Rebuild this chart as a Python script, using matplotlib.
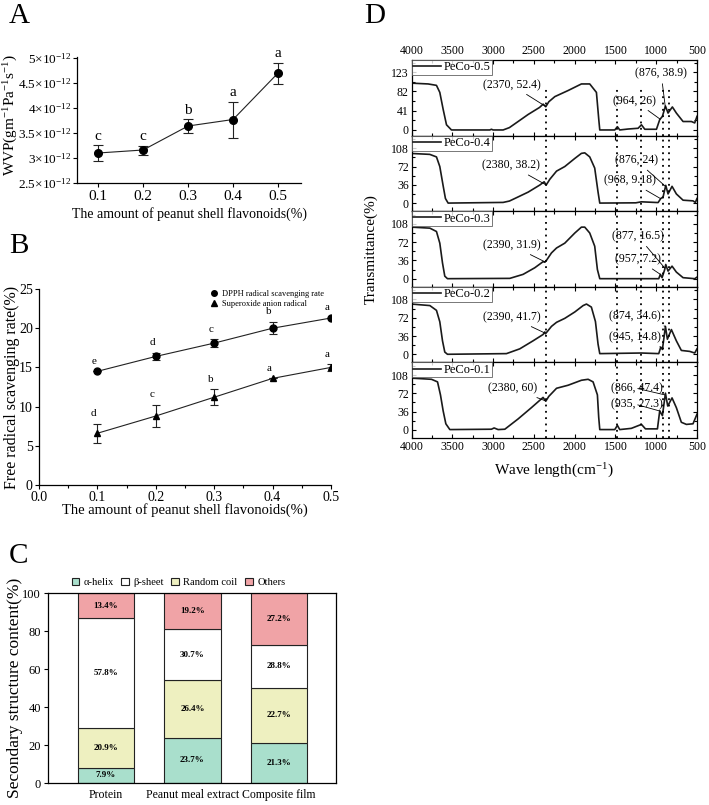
import numpy as np
import matplotlib.pyplot as plt
from matplotlib.patches import Patch
from matplotlib.lines import Line2D
from matplotlib.ticker import MultipleLocator

plt.rcParams['font.family'] = ['Liberation Serif', 'DejaVu Serif']
plt.rcParams['mathtext.fontset'] = 'custom'
plt.rcParams['mathtext.rm'] = 'Liberation Serif'
plt.rcParams['mathtext.it'] = 'Liberation Serif:italic'
plt.rcParams['axes.linewidth'] = 0.9

# ---- A: water vapour permeability
flav = [0.1, 0.2, 0.3, 0.4, 0.5]
wvp = [3.10e-12, 3.16e-12, 3.64e-12, 3.77e-12, 4.70e-12]
wvp_err = [0.16e-12, 0.09e-12, 0.145e-12, 0.36e-12, 0.21e-12]
wvp_sig = ['c', 'c', 'b', 'a', 'a']
wvp_ticks = [2.5e-12, 3e-12, 3.5e-12, 4e-12, 4.5e-12, 5e-12]
wvp_ticklabels = ['2.5×10$^{-12}$', '3×10$^{-12}$', '3.5×10$^{-12}$',
                  '4×10$^{-12}$', '4.5×10$^{-12}$', '5×10$^{-12}$']

# ---- B: radical scavenging
dpph = [14.5, 16.4, 18.1, 20.0, 21.3]
dpph_err = [0, 0.45, 0.5, 0.8, 0]
dpph_sig = ['e', 'd', 'c', 'b', 'a']
superox = [6.6, 8.8, 11.2, 13.6, 15.0]
superox_err = [1.2, 1.4, 1.0, 0, 0.4]
superox_sig = ['d', 'c', 'b', 'a', 'a']

# ---- C: secondary structure (segment heights as drawn, and their printed labels)
samples = ['Protein', 'Peanut meal extract', 'Composite film']
helix = [7.9, 23.7, 21.3]
coil = [20.9, 30.7, 28.8]
sheet = [57.8, 26.4, 22.7]
others = [13.4, 19.2, 27.2]
helix_lbl = ['7.9%', '23.7%', '21.3%']
coil_lbl = ['20.9%', '26.4%', '22.7%']
sheet_lbl = ['57.8%', '30.7%', '28.8%']
others_lbl = ['13.4%', '19.2%', '27.2%']

# ---- D: FTIR spectra (wavenumber, transmittance)
peco05 = [(4000, 99.7), (3796, 98), (3694, 95), (3653, 80), (3612, 44), (3571, 11), (3510, 0),
          (3040, 0), (3020, 1.5), (3000, 0), (2877, 0), (2800, 5), (2734, 13), (2570, 33),
          (2430, 48), (2386, 55), (2354, 49.5), (2317, 60), (2243, 71), (2080, 84), (1917, 98),
          (1815, 98), (1733, 80), (1704, 22), (1692, 0), (1508, 0), (1476, 7), (1447, 0),
          (1345, 2), (1222, 3.6), (1181, 11), (1140, 1.5), (997, 1.5), (957, 22), (924, 29),
          (887, 51), (855, 36), (802, 49), (753, 36), (671, 18), (569, 18), (528, 15), (500, 29)]
peco04 = [(4000, 97.8), (3776, 96), (3694, 91), (3653, 72), (3612, 34), (3584, 9), (3551, 0),
          (2877, 1.3), (2800, 4), (2734, 9), (2570, 21.6), (2427, 35.6), (2374, 42), (2349, 35.6),
          (2304, 47), (2222, 63), (2121, 72), (1998, 88), (1917, 98), (1876, 99), (1815, 91),
          (1754, 69), (1713, 21.6), (1692, 0), (1250, 0.5), (1181, 2.5), (977, 1), (944, 9),
          (916, 12), (883, 35), (855, 18), (806, 33), (753, 18), (671, 5.7), (549, 4.4),
          (520, 1.3), (500, 9)]
peco03 = [(4000, 101.6), (3775, 99.6), (3694, 93), (3653, 70), (3620, 31), (3592, 5), (3559, 0),
          (2795, 0.6), (2632, 8.5), (2489, 21.5), (2387, 33.5), (2366, 32.5), (2346, 36),
          (2284, 50.8), (2222, 60.5), (2121, 70), (1998, 90), (1917, 101.6), (1876, 101.6),
          (1815, 90), (1754, 64), (1721, 18), (1692, 0), (969, 0), (949, 8.5), (928, 2),
          (896, 18), (883, 28), (855, 15), (806, 24.7), (753, 13), (671, 2), (528, 0), (500, 3)]
peco02 = [(4000, 99), (3775, 96), (3694, 86.6), (3653, 64), (3620, 26.5), (3592, 4.4), (3559, 0),
          (2836, 1.3), (2673, 10.7), (2510, 26.5), (2387, 39), (2366, 44), (2358, 40.4),
          (2325, 46.8), (2284, 55), (2222, 63), (2121, 70.8), (1998, 83.4), (1896, 96),
          (1855, 99), (1795, 93), (1745, 64.5), (1713, 20), (1692, 1.3), (1181, 2.5), (969, 1.3),
          (944, 14), (924, 9.5), (887, 55), (863, 29.7), (814, 48.7), (753, 26.5), (692, 7.6),
          (590, 5.7), (528, 2.5), (500, 10.7)]
peco01 = [(4000, 102), (3755, 99.7), (3681, 94.6), (3645, 69), (3612, 37.5), (3579, 12), (3530, 0.6),
          (3020, 1.3), (2987, 3.8), (2938, 0.6), (2856, 1.3), (2693, 21.6), (2530, 43.8), (2387, 64),
          (2354, 56.5), (2317, 66), (2222, 82), (2080, 88), (1917, 97.8), (1835, 99.7), (1774, 94.6),
          (1721, 69), (1705, 24.8), (1692, 0.6), (1508, 0.6), (1476, 8.9), (1447, 0.6), (1305, 3),
          (1181, 10.8), (1132, 2), (985, 2), (957, 37.5), (924, 28), (887, 72.4), (859, 47),
          (806, 63), (753, 43.8), (692, 15), (630, 10.8), (549, 12), (500, 31)]
spectra = [peco05, peco04, peco03, peco02, peco01]
spec_names = ['PeCo-0.5', 'PeCo-0.4', 'PeCo-0.3', 'PeCo-0.2', 'PeCo-0.1']
marked_bands = [2355, 1477, 1183, 917, 843]
# peak labels: text, labelled point on the curve
peak_labels = [
    [('(2370, 52.4)', 2354, 50), ('(964, 26)', 952, 23), ('(876, 38.9)', 887, 47)],
    [('(2380, 38.2)', 2352, 36), ('(876, 24)', 887, 33), ('(968, 9.18)', 949, 9)],
    [('(2390, 31.9)', 2362, 33), ('(877, 16.5)', 895, 21), ('(957, 7.2)', 949, 8.5)],
    [('(2390, 41.7)', 2366, 42), ('(874, 34.6)', 887, 55), ('(945, 14.8)', 944, 14)],
    [('(2380, 60)', 2354, 57), ('(866, 47.4)', 895, 69), ('(935, 27.3)', 952, 37)],
]
label_pos = [
    [(2775, 96), (1263, 62), (940, 120)],
    [(2775, 74), (1243, 84), (1325, 44)],
    [(2775, 66), (1222, 83), (1222, 38)],
    [(2775, 73), (1263, 74), (1263, 33)],
    [(2760, 82), (1243, 82), (1243, 50)],
]

W, H = 709, 805
fig = plt.figure(figsize=(W / 100, H / 100), dpi=100)


def box(l, t, r, b):
    return [l / W, 1 - b / H, (r - l) / W, (b - t) / H]


for letter, x, y in [('A', 9, 16), ('B', 9, 246), ('C', 9, 556), ('D', 364, 16)]:
    fig.text(x / W, 1 - y / H, letter, fontsize=21, va='center', ha='left')

# ---------------- A
axA = fig.add_axes(box(77, 57, 301, 183))
axA.errorbar(flav, wvp, yerr=wvp_err, color='#222222', lw=0.8, marker='o', ms=5.5,
             mfc='black', mec='black', capsize=3.5, elinewidth=0.8, capthick=0.8)
for x, y, e, s in zip(flav, wvp, wvp_err, wvp_sig):
    axA.annotate(s, (x, y + e), xytext=(0, 1.5), textcoords='offset points',
                 ha='center', va='bottom', fontsize=11)
axA.set_xlim(0.053, 0.551)
axA.set_ylim(2.5e-12, 5.02e-12)
axA.set_xticks(flav)
axA.set_xticklabels([f'{v:.1f}' for v in flav])
axA.set_yticks(wvp_ticks)
axA.set_yticklabels(wvp_ticklabels)
axA.tick_params(axis='x', labelsize=11, length=3, width=0.8, pad=2)
axA.tick_params(axis='y', labelsize=9.5, length=3, width=0.8, pad=1)
for s in ['top', 'right']:
    axA.spines[s].set_visible(False)
axA.set_ylabel('WVP(gm$^{-1}$Pa$^{-1}$s$^{-1}$)', fontsize=11)
axA.yaxis.set_label_coords(-0.255, 0.54)
axA.set_xlabel('The amount of peanut shell flavonoids(%)', fontsize=10)
axA.xaxis.set_label_coords(0.5, -0.19)

# ---------------- B
axB = fig.add_axes(box(39, 289, 331, 485))
axB.errorbar(flav, dpph, yerr=dpph_err, color='#222222', lw=0.8, marker='o', ms=5,
             mfc='black', mec='black', capsize=3, elinewidth=0.8, capthick=0.8,
             label='DPPH radical scavenging rate')
axB.errorbar(flav, superox, yerr=superox_err, color='#222222', lw=0.8, marker='^', ms=5,
             mfc='black', mec='black', capsize=3, elinewidth=0.8, capthick=0.8,
             label='Superoxide anion radical')
for vals, errs, sig in [(dpph, dpph_err, dpph_sig), (superox, superox_err, superox_sig)]:
    for x, y, e, s in zip(flav, vals, errs, sig):
        axB.annotate(s, (x, y + e), xytext=(-2.5, 4), textcoords='offset points',
                     ha='center', va='bottom', fontsize=8)
axB.set_xlim(0, 0.5)
axB.set_ylim(0, 25)
axB.xaxis.set_major_locator(MultipleLocator(0.1))
axB.xaxis.set_minor_locator(MultipleLocator(0.05))
axB.yaxis.set_major_locator(MultipleLocator(5))
axB.xaxis.set_major_formatter(lambda v, p: f'{v:.1f}')
axB.tick_params(labelsize=10, length=3, width=0.8, pad=1.5)
axB.tick_params(which='minor', length=2, width=0.8)
for s in ['top', 'right']:
    axB.spines[s].set_visible(False)
axB.set_ylabel('Free radical scavenging rate(%)', fontsize=11.5)
axB.yaxis.set_label_coords(-0.065, 0.5)
axB.set_xlabel('The amount of peanut shell flavonoids(%)', fontsize=10.5)
axB.xaxis.set_label_coords(0.5, -0.092)
hB, lB = axB.get_legend_handles_labels()
hB = [Line2D([], [], marker=m, color='black', ls='none', ms=4) for m in ['o', '^']]
axB.legend(hB, lB, loc='upper right', bbox_to_anchor=(1.0, 1.035), fontsize=6,
           frameon=False, handlelength=1, handletextpad=0.4, labelspacing=0.25)

# ---------------- C
axC = fig.add_axes(box(48, 593, 336, 783))
xc = np.arange(len(samples))
colors = {'helix': '#a9dfcc', 'sheet': '#ffffff', 'coil': '#eef0c0', 'others': '#f0a3a6'}
bottom = np.zeros(len(samples))
for key, vals, lbls in [('helix', helix, helix_lbl), ('coil', coil, coil_lbl),
                        ('sheet', sheet, sheet_lbl), ('others', others, others_lbl)]:
    axC.bar(xc, vals, 0.65, bottom=bottom, color=colors[key], edgecolor='#222222', lw=0.8)
    for x, b, v, t in zip(xc, bottom, vals, lbls):
        axC.text(x, b + v / 2, t, ha='center', va='center', fontsize=6.5,
                 fontweight='bold')
    bottom += np.array(vals)
axC.set_xlim(-0.67, 2.66)
axC.set_ylim(0, 100)
axC.set_xticks(xc)
axC.set_xticklabels(samples, fontsize=8.5)
axC.set_yticks(range(0, 101, 20))
axC.tick_params(axis='y', labelsize=9, length=3, width=0.8, pad=2)
axC.tick_params(axis='x', length=0, pad=4)
axC.set_ylabel('Secondary structure content(%)', fontsize=12.5)
axC.yaxis.set_label_coords(-0.088, 0.5)
handles = [Patch(facecolor=colors[k], edgecolor='#222222', lw=0.8)
           for k in ['helix', 'sheet', 'coil', 'others']]
axC.legend(handles, ['α-helix', 'β-sheet', 'Random coil', 'Others'], loc='lower center',
           bbox_to_anchor=(0.453, 1.0), ncol=4, fontsize=7.6, frameon=False,
           handlelength=0.75, handleheight=0.75, columnspacing=0.7, handletextpad=0.4,
           borderaxespad=0.15)

# ---------------- D
top, bot = 60, 438
step = (bot - top) / 5
for i, (spec, name) in enumerate(zip(spectra, spec_names)):
    ax = fig.add_axes(box(411.5, top + i * step, 697, top + (i + 1) * step))
    wn = [p[0] for p in spec]
    tr = [p[1] for p in spec]
    ax.plot(wn, tr, color='#1a1a1a', lw=1.2, label=name)
    ax.set_xlim(4000, 500)
    if i == 0:
        ax.set_ylim(-12, 149)
        ax.set_yticks([0, 41, 82, 123])
        ax.yaxis.set_minor_locator(MultipleLocator(20.5))
        vmax = 0.62
    else:
        ax.set_ylim(-16, 133)
        ax.set_yticks([0, 36, 72, 108])
        ax.yaxis.set_minor_locator(MultipleLocator(18))
        vmax = 1
    for b in marked_bands:
        ax.axvline(b, ymax=vmax, color='black', ls=(0, (1, 2.5)), lw=1.3)
    ax.xaxis.set_major_locator(MultipleLocator(500))
    ax.xaxis.set_minor_locator(MultipleLocator(250))
    ax.tick_params(which='both', direction='in', top=True, right=True, width=0.8,
                   labelsize=8.5, pad=2, labelbottom=(i == 4), labeltop=(i == 0))
    ax.tick_params(which='major', length=3)
    ax.tick_params(which='minor', length=2)
    leg = ax.legend(loc='upper left', borderaxespad=0, fontsize=9, fancybox=False,
                    handlelength=2.2, borderpad=0.12, handletextpad=0.25)
    leg.get_frame().set_edgecolor('#555555')
    leg.get_frame().set_linewidth(0.7)
    for (txt, px, py), (tx, ty) in zip(peak_labels[i], label_pos[i]):
        ax.annotate(txt, (px, py), xytext=(tx, ty), fontsize=8.5, ha='center', va='center',
                    arrowprops=dict(arrowstyle='-', lw=0.6, color='black', shrinkA=1, shrinkB=0))

fig.text(378 / W, 1 - 249 / H, 'Transmittance(%)', rotation=90, ha='right', va='center',
         fontsize=11)
fig.text(554 / W, 1 - 462 / H, 'Wave length(cm$^{-1}$)', ha='center', va='top', fontsize=11)

fig.savefig('out.png', dpi=100)
